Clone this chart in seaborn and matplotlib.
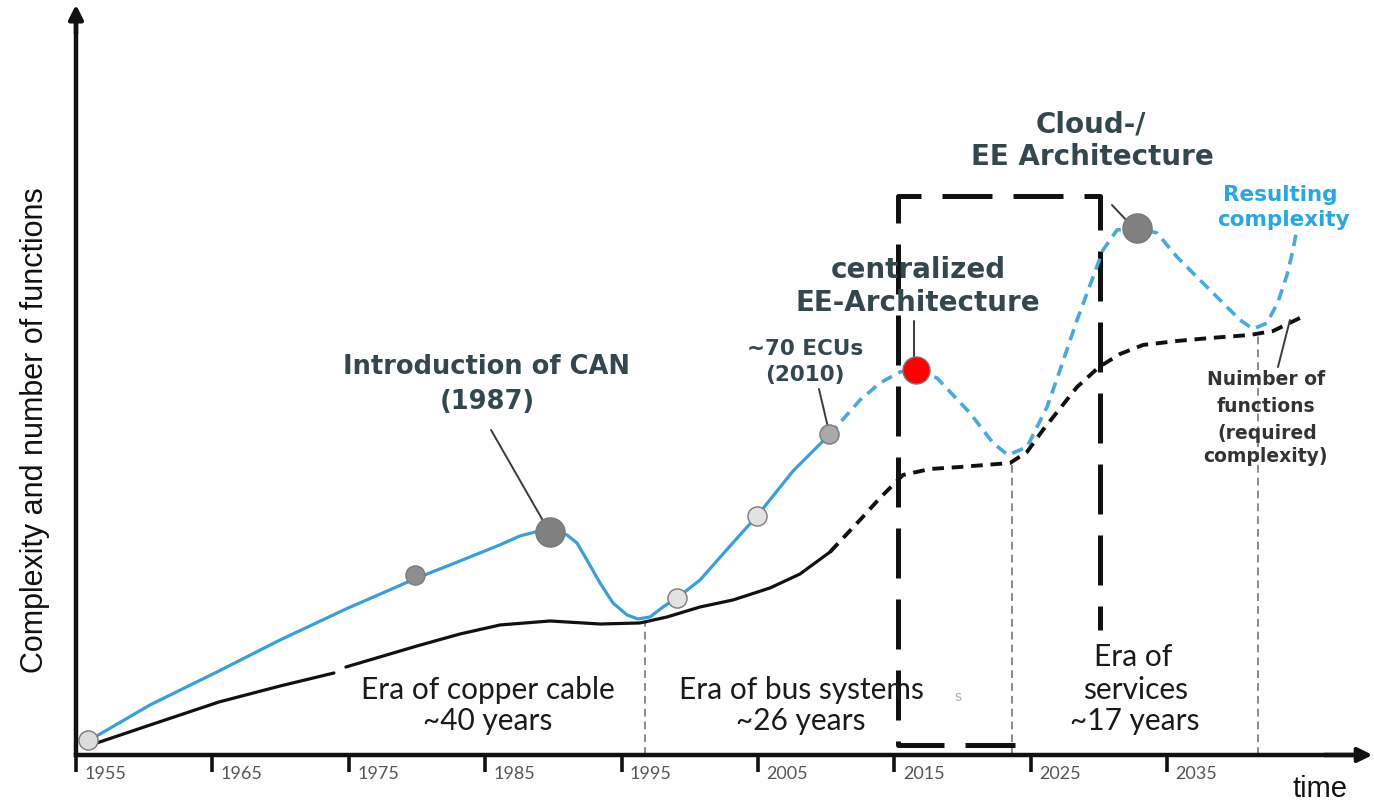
import matplotlib
matplotlib.use("Agg")
import matplotlib.pyplot as plt
import seaborn as sns

# ---------------- data ----------------
tick_years = [1955, 1965, 1975, 1985, 1995, 2005, 2015, 2025, 2035]
tick_labels = ["1955", "1965", "1975", "1985", "1995", "2005", "2015", "2025", "2035"]

# Resulting complexity (blue), solid part up to ~2010
complexity_solid_year = [1955.88, 1960.43, 1965.48, 1969.96, 1974.79, 1980.00, 1982.79,
                         1986.09, 1987.55, 1988.80, 1989.75, 1991.00, 1991.73, 1992.46,
                         1993.42, 1994.37, 1995.40, 1996.20, 1997.08, 1998.04, 1999.06,
                         2000.75, 2002.95, 2004.93, 2007.57, 2010.21]
complexity_solid_val = [1.89, 6.76, 11.35, 15.54, 19.73, 23.92, 25.95,
                        28.40, 29.60, 30.20, 30.10, 29.73, 28.65, 26.35,
                        23.24, 20.54, 18.92, 18.38, 18.65, 20.00, 21.22,
                        23.65, 28.24, 32.30, 38.38, 43.24]
# Resulting complexity (blue), dashed projection
complexity_dashed_year = [2010.21, 2012.48, 2013.94, 2015.41, 2016.51, 2018.12, 2020.54,
                          2022.23, 2023.33, 2024.72, 2026.19, 2027.14, 2028.39, 2029.56,
                          2030.29, 2031.32, 2032.79, 2034.25, 2035.72, 2037.40, 2038.87,
                          2040.34, 2041.29, 2042.32, 2043.12, 2043.78, 2044.22, 2044.52]
complexity_dashed_val = [43.24, 47.97, 50.27, 51.76, 52.03, 50.95, 46.22,
                         42.16, 40.54, 41.62, 47.03, 52.03, 58.78, 64.59,
                         68.24, 70.95, 71.22, 70.54, 67.30, 64.19, 61.49,
                         58.78, 57.57, 58.38, 61.22, 64.86, 68.24, 71.22]

# Number of functions (black), solid parts (small break near 1974)
functions_solid_a_year = [1955.88, 1960.43, 1965.48, 1969.96, 1973.91]
functions_solid_a_val = [1.22, 4.05, 7.16, 9.32, 11.08]
functions_solid_b_year = [1974.79, 1980.00, 1983.15, 1986.09, 1989.75, 1993.42, 1996.35,
                          1998.33, 2000.75, 2003.17, 2005.88, 2008.08, 2010.28]
functions_solid_b_val = [11.89, 14.73, 16.35, 17.57, 18.11, 17.70, 17.84,
                         18.65, 20.00, 20.95, 22.57, 24.46, 27.43]
# Number of functions (black), dashed projection
functions_dashed_year = [2010.28, 2012.48, 2013.94, 2015.63, 2017.61, 2019.81, 2023.48,
                         2024.72, 2025.89, 2028.39, 2030.00, 2031.54, 2033.23, 2035.72,
                         2038.14, 2041.07, 2042.76, 2044.88]
functions_dashed_val = [27.43, 31.76, 34.73, 37.84, 38.65, 38.92, 39.46,
                        40.95, 43.92, 49.73, 52.43, 54.19, 55.41, 55.95,
                        56.35, 56.76, 57.30, 59.19]

# Milestone markers on the complexity curve
marker_year = [1955.88, 1979.85, 1989.75, 1999.06, 2004.93, 2010.21, 2016.58, 2032.79]
marker_val = [2.03, 24.32, 30.14, 21.22, 32.30, 43.38, 52.03, 71.22]
marker_color = ["#dcdcdc", "#8e8e8e", "#808080", "#e2e2e2", "#e2e2e2", "#a9a9a9", "#ff0000", "#808080"]
marker_size = [190, 190, 440, 190, 190, 190, 380, 440]

# Era boundaries (thin grey dashed verticals)
era_boundary_year = [1996.72, 2023.62, 2041.66]
era_boundary_top = [17.84, 39.46, 56.90]

# Dashed box around the centralized architecture period
box_year = [2023.84, 2015.26, 2015.26, 2030.07, 2030.07]
box_val = [1.35, 1.35, 75.54, 75.54, 16.89]

# Callout leader lines: (x0, y0, x1, y1)
callouts = [
    (1985.43, 43.92, 1989.46, 30.95),
    (2009.47, 49.46, 2010.21, 43.65),
    (2016.44, 58.65, 2016.44, 53.11),
    (2030.95, 74.32, 2032.13, 72.03),
    (2044.00, 58.78, 2043.12, 52.43),
]

# ---------------- figure ----------------
sns.set_theme(style="white")
plt.rcParams["font.family"] = ["DejaVu Sans"]

fig = plt.figure(figsize=(13.74, 8.05), dpi=100)
ax = fig.add_axes([0, 0, 1, 1])
ax.set_facecolor("white")
ax.set_xlim(1949.43, 2050.16)
ax.set_ylim(-6.76, 102.03)

BLUE = "#3a9fd6"
BLUE_D = "#4aa8dc"
INK = "#111111"

# era boundaries
for x, top in zip(era_boundary_year, era_boundary_top):
    ax.plot([x, x], [0, top], color="#8a8a8a", lw=1.4, ls=(0, (4, 2.6)), zorder=1)

# dashed box
ax.plot(box_year, box_val, color=INK, lw=3.6, ls=(0, (10, 4.2)), zorder=2,
        solid_capstyle="butt", dash_capstyle="butt")

# curves
line_kw = dict(estimator=None, sort=False, solid_joinstyle="round", solid_capstyle="round")
sns.lineplot(x=functions_solid_a_year, y=functions_solid_a_val, ax=ax, color=INK,
             lw=2.3, zorder=3, **line_kw)
sns.lineplot(x=functions_solid_b_year, y=functions_solid_b_val, ax=ax, color=INK,
             lw=2.3, zorder=3, **line_kw)
sns.lineplot(x=functions_dashed_year, y=functions_dashed_val, ax=ax, color=INK,
             lw=2.8, ls=(0, (3.0, 2.0)), zorder=3, **line_kw)
sns.lineplot(x=complexity_solid_year, y=complexity_solid_val, ax=ax, color=BLUE,
             lw=2.3, zorder=4, **line_kw)
sns.lineplot(x=complexity_dashed_year, y=complexity_dashed_val, ax=ax, color=BLUE_D,
             lw=2.6, ls=(0, (3.2, 2.0)), zorder=4, **line_kw)

# callout lines
for x0, y0, x1, y1 in callouts:
    ax.plot([x0, x1], [y0, y1], color="#3a3a3a", lw=1.4, zorder=5)

# markers
for x, y, c, s in zip(marker_year, marker_val, marker_color, marker_size):
    sns.scatterplot(x=[x], y=[y], ax=ax, s=s, color=c, edgecolor="#7a7a7a",
                    linewidth=1.0, zorder=6)

# axes
for side in ["top", "right"]:
    ax.spines[side].set_visible(False)
ax.spines["bottom"].set_position(("data", 0))
ax.spines["left"].set_position(("data", 1955))
ax.spines["bottom"].set_bounds(1955, 2048.5)
ax.spines["left"].set_bounds(0, 99.5)
for side in ["bottom", "left"]:
    ax.spines[side].set_linewidth(3.2)
    ax.spines[side].set_color(INK)
    ax.spines[side].set_zorder(7)
ax.annotate("", xy=(2050.05, 0), xytext=(2046.5, 0),
            arrowprops=dict(arrowstyle="-|>,head_length=0.7,head_width=0.35",
                            color=INK, lw=3.2, shrinkA=0, shrinkB=0), zorder=7)
ax.annotate("", xy=(1955, 101.4), xytext=(1955, 97.5),
            arrowprops=dict(arrowstyle="-|>,head_length=0.7,head_width=0.35",
                            color=INK, lw=3.2, shrinkA=0, shrinkB=0), zorder=7)

ax.set_yticks([])
ax.set_xticks(tick_years)
ax.set_xticklabels([""] * len(tick_years))
ax.tick_params(axis="x", which="major", direction="out", length=12, width=2.6,
               color=INK, bottom=True)
ax.set_xticks([y + 2.15 for y in tick_years], minor=True)
ax.set_xticklabels(tick_labels, minor=True, fontsize=13, color="#555555",
                   fontfamily="Lato")
ax.tick_params(axis="x", which="minor", length=0, pad=8)
ax.grid(False)

# texts
SLATE = "#34474f"
def txt(x, y, s, size, color=SLATE, weight="bold", family="DejaVu Sans", **kw):
    ax.text(x, y, s, fontsize=size, color=color, fontweight=weight,
            fontfamily=family, ha="center", va="center", zorder=8, **kw)

txt(1985.13, 52.43, "Introduction of CAN", 18.5)
txt(1985.13, 47.70, "(1987)", 18.5)
txt(2008.45, 54.86, "~70 ECUs", 15.5)
txt(2008.45, 51.35, "(2010)", 15.5)
txt(2016.73, 65.54, "centralized", 20)
txt(2016.73, 61.08, "EE-Architecture", 20)
txt(2029.41, 85.14, "Cloud-/", 20)
txt(2029.49, 80.81, "EE Architecture", 20)
txt(2043.27, 75.68, "Resulting", 15.5, color="#2aa7e1")
txt(2043.49, 72.30, "complexity", 15.5, color="#2aa7e1")
txt(2042.24, 50.68, "Nuimber of", 13.5, color="#333333")
txt(2042.24, 47.03, "functions", 13.5, color="#333333")
txt(2042.32, 43.51, "(required", 13.5, color="#333333")
txt(2042.17, 40.27, "complexity)", 13.5, color="#333333")

ERA = "#1a1a1a"
txt(1985.21, 8.78, "Era of copper cable", 21.5, color=ERA, weight="normal", family="Lato")
txt(1985.21, 4.59, "~40 years", 21.5, color=ERA, weight="normal", family="Lato")
txt(2008.15, 8.78, "Era of bus systems", 21.5, color=ERA, weight="normal", family="Lato")
txt(2008.15, 4.59, "~26 years", 21.5, color=ERA, weight="normal", family="Lato")
txt(2032.49, 13.24, "Era of", 21.5, color=ERA, weight="normal", family="Lato")
txt(2032.71, 8.78, "services", 21.5, color=ERA, weight="normal", family="Lato")
txt(2032.64, 4.59, "~17 years", 21.5, color=ERA, weight="normal", family="Lato")
txt(2019.66, 7.84, "s", 10, color="#b0b0b0", weight="normal")

txt(2046.20, -4.6, "time", 21, color=INK, weight="normal", family="Liberation Sans")
txt(1951.99, 43.92, "Complexity and number of functions", 22, color=INK,
    weight="normal", family="Liberation Sans", rotation=90)

fig.savefig("out.png", dpi=100)
